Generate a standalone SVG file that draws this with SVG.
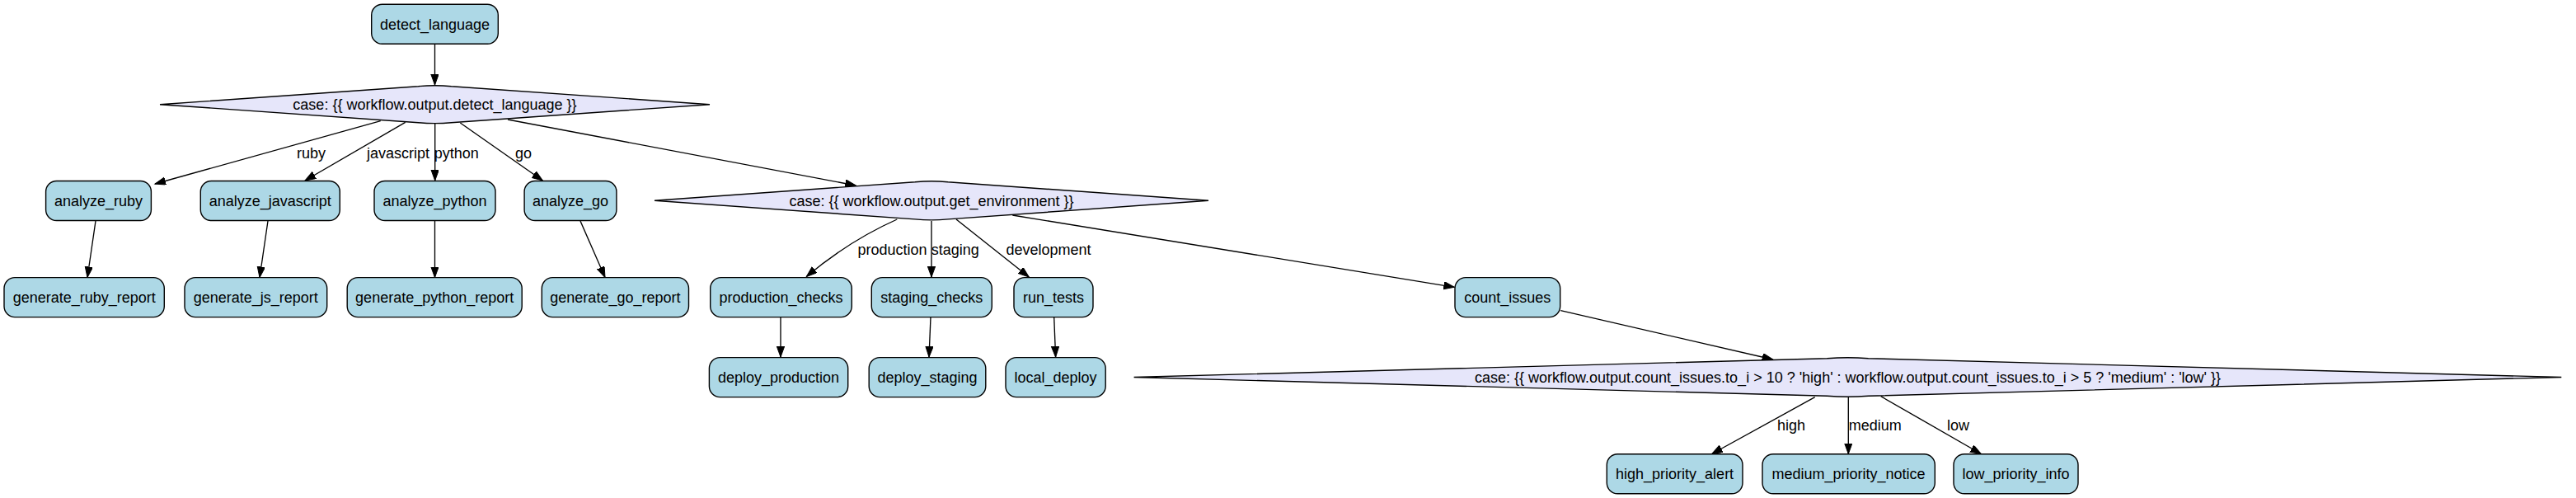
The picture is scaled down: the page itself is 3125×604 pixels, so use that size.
<svg xmlns="http://www.w3.org/2000/svg" width="3125" height="604" viewBox="0 0 3125 604">
<style>
.n rect{fill:#add8e6;stroke:#000;stroke-width:1.4}
.d path{fill:#e6e6fa;stroke:#000;stroke-width:1.4}
text{font-family:"Liberation Sans",Arial,sans-serif;font-size:18px;fill:#000}
.n text,.d text{text-anchor:middle}
.el{text-anchor:middle}
#edges path{fill:none;stroke:#000;stroke-width:1.35;marker-end:url(#ah)}
</style>
<defs>
<marker id="ah" markerUnits="userSpaceOnUse" markerWidth="15" markerHeight="11" refX="13" refY="4.7" orient="auto">
<path d="M0,0 L13,4.7 L0,9.4 Z" fill="#000" stroke="#000" stroke-width="1"/>
</marker>
</defs>
<rect width="3125" height="604" fill="#fff"/>

<g id="edges">
<path d="M527.5,53.5 L527.5,103"/>
<path d="M461.7,146.7 L188,223"/>
<path d="M491.7,148.3 L370,219"/>
<path d="M527.7,150 L527.7,219"/>
<path d="M558.3,149 L658.3,219"/>
<path d="M616,145 L1038.3,225"/>
<path d="M116,268 L106,336.5"/>
<path d="M325,268 L315,336.5"/>
<path d="M527.5,268 L527.5,336.5"/>
<path d="M704,268 L734,336.5"/>
<path d="M1088.3,266 Q1030,292 978.3,335.5"/>
<path d="M1130,268 L1130,336"/>
<path d="M1160,266 L1248.3,336"/>
<path d="M1228.3,261 L1764.3,348.3"/>
<path d="M947,384.5 L947,433"/>
<path d="M1129,384.5 L1127,433"/>
<path d="M1278.7,384.5 L1280.6,433"/>
<path d="M1893.3,376.7 L2150.7,436"/>
<path d="M2201.7,481.7 L2076.7,550.5"/>
<path d="M2242.3,481.7 L2242.3,550.5"/>
<path d="M2281.7,480.7 L2403.3,550.5"/>
<text class="el" x="377.5" y="192">ruby</text>
<text class="el" x="483" y="192">javascript</text>
<text class="el" x="553.7" y="192">python</text>
<text class="el" x="635" y="192">go</text>
<text class="el" x="1082.5" y="309">production</text>
<text class="el" x="1158.8" y="309">staging</text>
<text class="el" x="1272" y="309">development</text>
<text class="el" x="2173" y="522">high</text>
<text class="el" x="2274.7" y="522">medium</text>
<text class="el" x="2375.5" y="522">low</text>
</g>

<g id="detect_language" class="n"><rect x="450.7" y="5.2" width="153.6" height="48" rx="13"/><text x="527.5" y="35.7">detect_language</text></g>

<g id="case_language" class="d"><path d="M194,126.7 L507.5,104.7 Q527.5,102.8 547.5,104.7 L861,126.7 L547.5,148.7 Q527.5,150.6 507.5,148.7 Z"/><text x="527.5" y="133.2">case: {{ workflow.output.detect_language }}</text></g>

<g id="analyze_ruby" class="n"><rect x="55.6" y="219.5" width="127.8" height="48" rx="13"/><text x="119.5" y="250">analyze_ruby</text></g>
<g id="analyze_javascript" class="n"><rect x="243.3" y="219.5" width="169" height="48" rx="13"/><text x="327.8" y="250">analyze_javascript</text></g>
<g id="analyze_python" class="n"><rect x="454" y="219.5" width="147" height="48" rx="13"/><text x="527.5" y="250">analyze_python</text></g>
<g id="analyze_go" class="n"><rect x="636.1" y="219.5" width="111.8" height="48" rx="13"/><text x="692" y="250">analyze_go</text></g>

<g id="case_environment" class="d"><path d="M794,243.3 L1110,220.7 Q1130,218.8 1150,220.7 L1466,243.3 L1150,265.9 Q1130,267.8 1110,265.9 Z"/><text x="1130" y="249.8">case: {{ workflow.output.get_environment }}</text></g>

<g id="generate_ruby_report" class="n"><rect x="5" y="336.6" width="194.3" height="48" rx="13"/><text x="102.2" y="367.1">generate_ruby_report</text></g>
<g id="generate_js_report" class="n"><rect x="224" y="336.6" width="172.7" height="48" rx="13"/><text x="310.3" y="367.1">generate_js_report</text></g>
<g id="generate_python_report" class="n"><rect x="421.2" y="336.6" width="212" height="48" rx="13"/><text x="527.2" y="367.1">generate_python_report</text></g>
<g id="generate_go_report" class="n"><rect x="657.3" y="336.6" width="178.2" height="48" rx="13"/><text x="746.4" y="367.1">generate_go_report</text></g>

<g id="production_checks" class="n"><rect x="861.7" y="336.6" width="171.6" height="48" rx="13"/><text x="947.5" y="367.1">production_checks</text></g>
<g id="staging_checks" class="n"><rect x="1057.3" y="336.6" width="146" height="48" rx="13"/><text x="1130.3" y="367.1">staging_checks</text></g>
<g id="run_tests" class="n"><rect x="1230" y="336.6" width="96" height="48" rx="13"/><text x="1278" y="367.1">run_tests</text></g>
<g id="count_issues" class="n"><rect x="1765" y="336.6" width="127.7" height="48" rx="13"/><text x="1828.8" y="367.1">count_issues</text></g>

<g id="deploy_production" class="n"><rect x="860.4" y="433.6" width="168.3" height="48" rx="13"/><text x="944.5" y="464.1">deploy_production</text></g>
<g id="deploy_staging" class="n"><rect x="1054.2" y="433.6" width="141.6" height="48" rx="13"/><text x="1125" y="464.1">deploy_staging</text></g>
<g id="local_deploy" class="n"><rect x="1220" y="433.6" width="121.2" height="48" rx="13"/><text x="1280.6" y="464.1">local_deploy</text></g>

<g id="case_priority" class="d"><path d="M1375.6,457.5 L2216.5,434.7 Q2241.5,432.8 2266.5,434.7 L3107.3,457.5 L2266.5,480.3 Q2241.5,482.2 2216.5,480.3 Z"/><text x="2241.5" y="464">case: {{ workflow.output.count_issues.to_i &gt; 10 ? 'high' : workflow.output.count_issues.to_i &gt; 5 ? 'medium' : 'low' }}</text></g>

<g id="high_priority_alert" class="n"><rect x="1949.3" y="550.8" width="164.7" height="48" rx="13"/><text x="2031.6" y="581.3">high_priority_alert</text></g>
<g id="medium_priority_notice" class="n"><rect x="2138" y="550.8" width="209.3" height="48" rx="13"/><text x="2242.6" y="581.3">medium_priority_notice</text></g>
<g id="low_priority_info" class="n"><rect x="2370" y="550.8" width="151" height="48" rx="13"/><text x="2445.5" y="581.3">low_priority_info</text></g>
</svg>
